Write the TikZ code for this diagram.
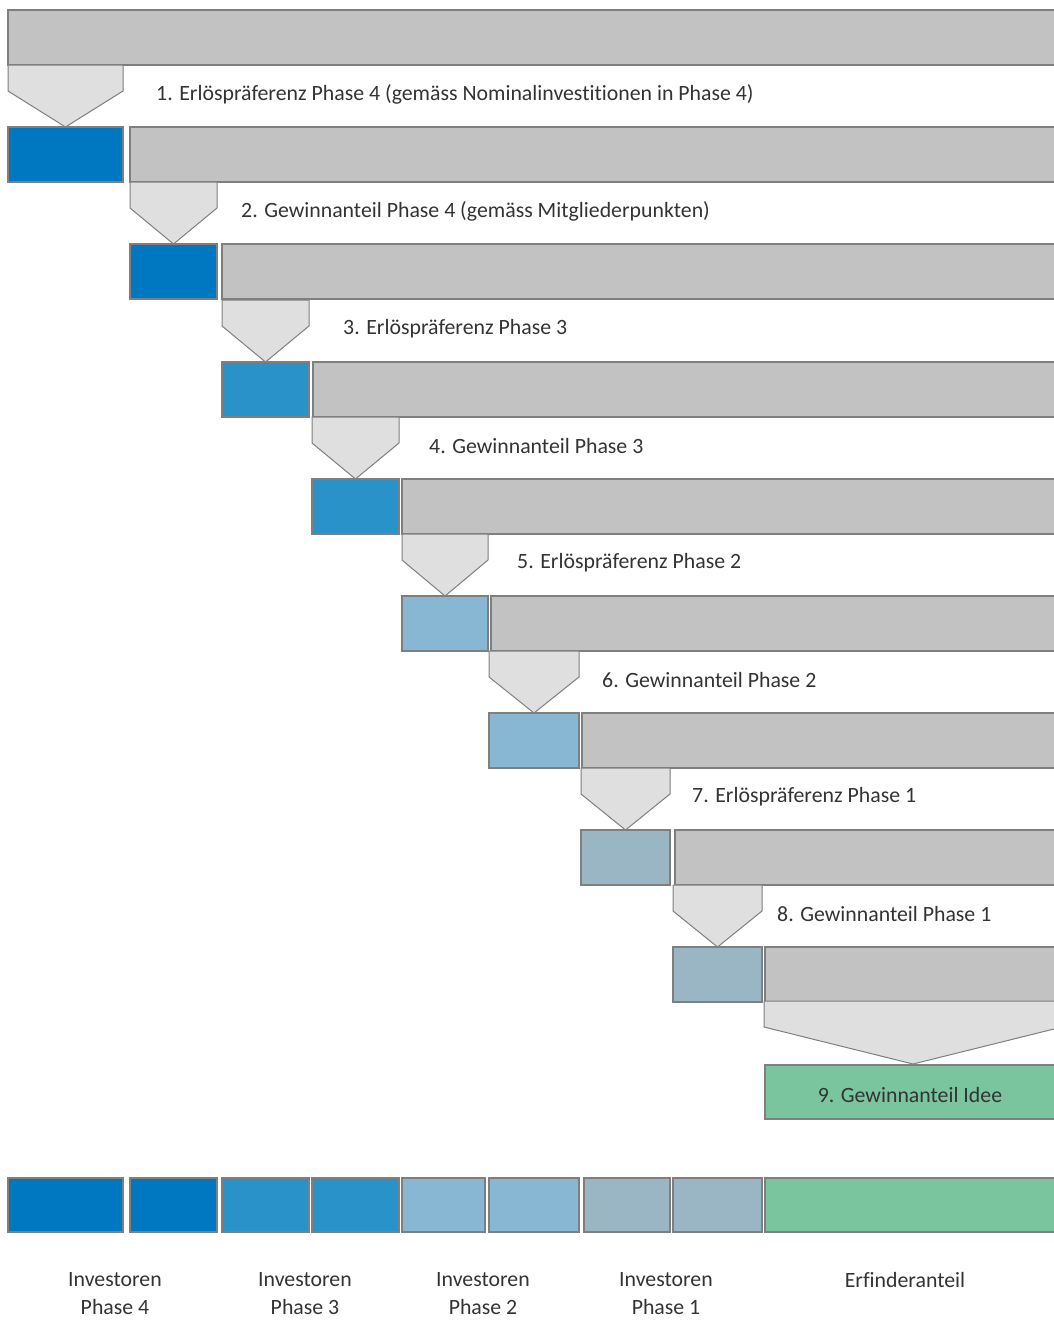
\documentclass[tikz,border=0pt]{standalone}
\usepackage{fontspec}
\setmainfont{Carlito}[Ligatures=NoCommon]
\usetikzlibrary{positioning}

\definecolor{invA}{HTML}{0078C1}
\definecolor{invB}{HTML}{2993C9}
\definecolor{invC}{HTML}{87B7D3}
\definecolor{invD}{HTML}{9AB5C4}
\definecolor{idee}{HTML}{7AC59D}
\definecolor{barfill}{HTML}{C2C2C2}
\definecolor{pentfill}{HTML}{DFDFDF}
\definecolor{edge}{HTML}{7F7F7F}
\definecolor{txt}{HTML}{333333}

\tikzset{
  box/.style={rectangle, draw=edge, line width=1.4pt, inner sep=0pt, outer sep=0pt,
    minimum height=55pt, anchor=north west},
  graybar/.style={box, fill=barfill},
  pent/.style={draw=edge, line width=1pt, fill=pentfill, line join=miter},
  lbl/.style={text=txt, font=\fontsize{21.8}{28}\selectfont, inner sep=0pt},
}

\begin{document}
\begin{tikzpicture}[x=1pt, y=-1pt]
    \useasboundingbox (0,0) rectangle (1054,1320);
    \clip (0,0) rectangle (1054,1320);
    %top bar
    \node[graybar, minimum width=1070pt] (g0) at (8,10) {};
    % rows 1..8
    \foreach \i/\xa/\xb/\xg/\yt/\col/\tx/\txt in {
        1/8/123/130/127/invA/156/{1. Erlöspräferenz Phase 4 (gemäss Nominalinvestitionen in Phase 4)},
        2/130/217/222/244/invA/241/{2. Gewinnanteil Phase 4 (gemäss Mitgliederpunkten)},
        3/222/309/313/362/invB/343/{3. Erlöspräferenz Phase 3},
        4/312/399/402/479/invB/429/{4. Gewinnanteil Phase 3},
        5/402/488/491/596/invC/517/{5. Erlöspräferenz Phase 2},
        6/489/579/582/713/invC/602/{6. Gewinnanteil Phase 2},
        7/581/670/675/830/invD/692/{7. Erlöspräferenz Phase 1},
        8/673/762/765/947/invD/777/{8. Gewinnanteil Phase 1}}{
        \draw[pent] (\xa,\yt-62) -- (\xb,\yt-62) -- (\xb,\yt-36) -- ({(\xa+\xb)/2},\yt) -- (\xa,\yt-36) -- cycle;
        \node[box, fill=\col, minimum width={(\xb-\xa)*1pt}] (b\i) at (\xa,\yt) {};
        \node[graybar, minimum width={(1070-\xg)*1pt}] (g\i) at (\xg,\yt) {};
        \node[lbl, anchor=west] (t\i) at (\tx,\yt-33) {\txt};
    }
    % last step
    \draw[pent] (764,1001) -- (1062,1001) -- (1062,1027) -- (913,1064) -- (764,1027) -- cycle;
    \node[box, fill=idee, minimum width=300pt, minimum height=54pt] (b9) at (765,1065) {};
    \node[lbl] (t9) at (910,1095) {9. Gewinnanteil Idee};
    % result
    \foreach \j/\xa/\xb/\col in {1/8/123/invA, 2/130/217/invA, 3/222/309/invB, 4/312/399/invB,
        5/402/485/invC, 6/489/579/invC, 7/584/670/invD, 8/673/762/invD, 9/765/1065/idee}{
        \node[box, fill=\col, minimum width={(\xb-\xa)*1pt}, minimum height=54pt] (r\j) at (\xa,1178) {};
    }
    \node[lbl, align=center] (s4) at (115,1294) {Investoren\\Phase 4};
    \node[lbl, align=center] (s3) at (305,1294) {Investoren\\Phase 3};
    \node[lbl, align=center] (s2) at (483,1294) {Investoren\\Phase 2};
    \node[lbl, align=center] (s1) at (666,1294) {Investoren\\Phase 1};
    \node[lbl] (s0) at (905,1280) {Erfinderanteil};
\end{tikzpicture}
\end{document}
